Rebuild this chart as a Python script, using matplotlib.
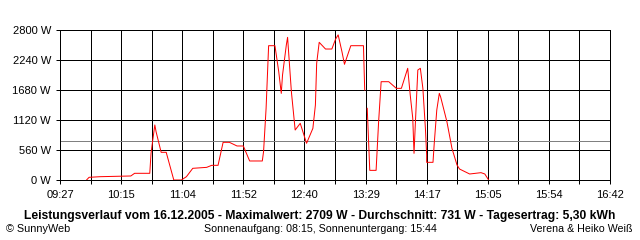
import numpy as np
import matplotlib
matplotlib.use("Agg")
import matplotlib.pyplot as plt

# measured power over the day (time of day, watts); NaN = gap in the log
times = ["09:48", "09:50", "09:59", "10:23", "10:26", "10:38", "10:39", "10:40",
         "10:42", "10:43", "10:47", "10:51", "10:57", "11:03", "11:07", "11:12",
         "11:23", "11:27", "11:32", "11:36", "11:41", "11:47", "11:52", "11:57",
         "12:07", "12:08", "12:10", "12:12", "12:17", "12:20", "12:22", "12:23",
         "12:26", "12:27", "12:30", "12:33", "12:37", "12:42", "12:47", "12:49",
         "12:50", "12:52", "12:57", "13:02", "13:05", "13:07", "13:10", "13:12",
         "13:17", "13:27", "13:28", "13:29", "13:30", "13:32", "13:37", "13:39",
         "13:41", "13:47", "13:53", "13:57", "14:02", "14:04", "14:06", "14:07",
         "14:08", "14:10", "14:12", "14:14", "14:16", "14:17", "14:17", "14:22",
         "14:23", "14:25", "14:27", "14:28", "14:33", "14:37", "14:41", "14:43",
         "14:51", "15:00", "15:03", "15:06"]
watts = [0, 50, 62, 75, 125, 125, 500, 680,
         1027, 900, 517, 517, 0, 0, 62, 218,
         236, 274, 274, 703, 703, 635, 635, 355,
         355, 530, 1338, 2507, 2507, 2022, 1617, 1960,
         2520, 2663, 1648, 933, 1058, 685, 964, 1400,
         2178, 2570, 2445, 2445, 2632, 2709, 2395, 2160,
         2507, 2507, 1680, np.nan, 1338, 180, 180, 1089,
         1835, 1835, 1711, 1711, 2085, 1587, 1151, 498,
         1027, 2053, 2085, 1711, 964, 467, 330, 330,
         685, 1307, 1617, 1555, 1089, 591, 280, 205,
         112, 137, 112, 0]
avg_w = 731

x_labels = ["09:27", "10:15", "11:04", "11:52", "12:40",
            "13:29", "14:17", "15:05", "15:54", "16:42"]
y_values = [0, 560, 1120, 1680, 2240, 2800]

title = ("Leistungsverlauf vom 16.12.2005 - Maximalwert: 2709 W - "
         "Durchschnitt: 731 W - Tagesertrag: 5,30 kWh")
footer_left = "© SunnyWeb"
footer_mid = "Sonnenaufgang: 08:15, Sonnenuntergang: 15:44"
footer_right = "Verena & Heiko Weiß"


def to_min(s):
    h, m = s.split(":")
    return int(h) * 60 + int(m)


t = np.array([to_min(s) for s in times], dtype=float)
w = np.array(watts, dtype=float)

plt.rcParams["font.family"] = ["Liberation Sans", "DejaVu Sans"]
px = 0.72  # one pixel in points at 100 dpi

fig = plt.figure(figsize=(6.4, 2.4), dpi=100)
ax = fig.add_axes([60 / 640, 60 / 240, 550 / 640, 150 / 240])

t0, t1 = to_min(x_labels[0]), to_min(x_labels[-1])
ax.set_xlim(t0, t1)
ax.set_ylim(0, 2800)

major = np.linspace(t0, t1, len(x_labels))
minor = (major[:-1] + major[1:]) / 2
ax.set_xticks(major)
ax.set_xticklabels(x_labels)
ax.set_xticks(minor, minor=True)
ax.set_yticks(y_values)
ax.set_yticklabels([f"{v} W" for v in y_values])

ax.grid(which="both", color="black", linewidth=px, zorder=0)
ax.set_axisbelow(True)
for sp in ax.spines.values():
    sp.set_color("black")
    sp.set_linewidth(px)

ax.tick_params(which="both", direction="out", length=3, width=px,
               labelsize=8, color="black")
ax.tick_params(axis="x", pad=4)
ax.tick_params(axis="y", pad=3.5)

ax.axhline(avg_w, color="#808080", linewidth=px, zorder=2)
ax.plot(t, w, color="#ff0000", linewidth=px, zorder=3)

fig.text(0.5, 1 - 216 / 240, title, ha="center", va="center",
         fontsize=8.7, fontweight="bold")
fig.text(6 / 640, 1 - 229 / 240, footer_left, ha="left", va="center", fontsize=7.8)
fig.text(320 / 640, 1 - 229 / 240, footer_mid, ha="center", va="center", fontsize=7.7)
fig.text(632 / 640, 1 - 229 / 240, footer_right, ha="right", va="center", fontsize=7.7)

fig.savefig("out.png", dpi=100)
